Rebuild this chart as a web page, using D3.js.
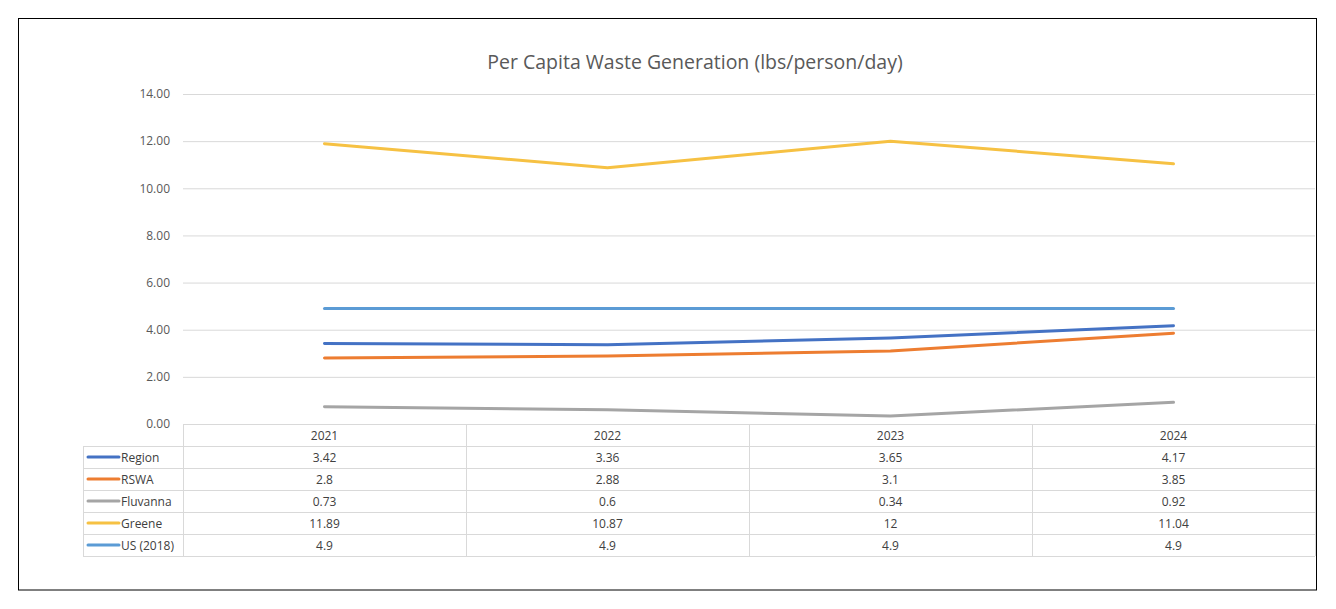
<!DOCTYPE html>
<html>
<head>
<meta charset="utf-8">
<script src="https://cdn.jsdelivr.net/npm/d3@7"></script>
<style>
  html, body { margin: 0; padding: 0; background: #fff; }
  svg { display: block; font-family: "Open Sans", "Liberation Sans", sans-serif; }
</style>
</head>
<body>
<div id="chart"></div>
<script>
const years = ['2021', '2022', '2023', '2024'];
const seriesNames = ['Region', 'RSWA', 'Fluvanna', 'Greene', 'US (2018)'];
const region = [3.42, 3.36, 3.65, 4.17];
const rswa = [2.8, 2.88, 3.1, 3.85];
const fluvanna = [0.73, 0.6, 0.34, 0.92];
const greene = [11.89, 10.87, 12, 11.04];
const us2018 = [4.9, 4.9, 4.9, 4.9];
const yTicks = [0, 2, 4, 6, 8, 10, 12, 14];
const colors = ['#4472C4', '#ED7D31', '#A5A5A5', '#F6C143', '#5B9BD5'];

const seriesValues = [region, rswa, fluvanna, greene, us2018];
const series = seriesNames.map((name, i) => ({ name, values: seriesValues[i], color: colors[i] }));

const W = 1336, H = 609;
const plotLeft = 183, plotRight = 1315, plotTop = 94, plotBottom = 424;
const rowH = 22;
const legendLeft = 83;

const svg = d3.select('#chart').append('svg')
  .attr('width', W)
  .attr('height', H);

// outer frame
svg.append('rect')
  .attr('x', 18.5).attr('y', 18.5)
  .attr('width', 1298).attr('height', 571.5)
  .attr('fill', '#fff')
  .attr('stroke', '#000')
  .attr('stroke-width', 1);

// title
svg.append('text')
  .attr('x', 695).attr('y', 69)
  .attr('text-anchor', 'middle')
  .attr('font-size', 19.5)
  .attr('fill', '#595959')
  .text('Per Capita Waste Generation (lbs/person/day)');

const x = d3.scaleBand()
  .domain(years)
  .range([plotLeft, plotRight]);

const y = d3.scaleLinear()
  .domain([0, 14])
  .range([plotBottom, plotTop]);

// gridlines + y labels
const yAxis = d3.axisLeft(y)
  .tickValues(yTicks)
  .tickSize(-(plotRight - plotLeft))
  .tickPadding(13)
  .tickFormat(d3.format('.2f'));

const gy = svg.append('g')
  .attr('transform', `translate(${plotLeft},0)`)
  .call(yAxis);
gy.select('.domain').remove();
gy.selectAll('.tick line').attr('stroke', '#D9D9D9').attr('stroke-width', 1);
gy.selectAll('.tick text')
  .attr('fill', '#595959')
  .attr('font-size', 12)
  .attr('font-family', '"Open Sans", "Liberation Sans", sans-serif');

// series lines
const line = d3.line()
  .x((d, i) => x(years[i]) + x.bandwidth() / 2)
  .y(d => y(d));

svg.append('g')
  .selectAll('path')
  .data(series)
  .join('path')
  .attr('d', d => line(d.values))
  .attr('fill', 'none')
  .attr('stroke', d => d.color)
  .attr('stroke-width', 3)
  .attr('stroke-linejoin', 'round')
  .attr('stroke-linecap', 'round');

// data table
const table = svg.append('g');
const gridColor = '#D9D9D9';
const tableBottom = plotBottom + rowH * (series.length + 1);

// header row borders (no legend cell in header)
table.append('line')
  .attr('x1', plotLeft).attr('x2', plotRight)
  .attr('y1', plotBottom + 0.5).attr('y2', plotBottom + 0.5)
  .attr('stroke', gridColor);

// horizontal rules under header and each series row
series.forEach((s, i) => {
  const yy = plotBottom + rowH * (i + 1) + 0.5;
  table.append('line')
    .attr('x1', legendLeft).attr('x2', plotRight)
    .attr('y1', yy).attr('y2', yy)
    .attr('stroke', gridColor);
});
table.append('line')
  .attr('x1', legendLeft).attr('x2', plotRight)
  .attr('y1', tableBottom + 0.5).attr('y2', tableBottom + 0.5)
  .attr('stroke', gridColor);

// vertical rules
table.append('line')
  .attr('x1', legendLeft + 0.5).attr('x2', legendLeft + 0.5)
  .attr('y1', plotBottom + rowH).attr('y2', tableBottom)
  .attr('stroke', gridColor);
years.forEach(yr => {
  const xx = x(yr) + 0.5;
  table.append('line')
    .attr('x1', xx).attr('x2', xx)
    .attr('y1', plotBottom).attr('y2', tableBottom)
    .attr('stroke', gridColor);
});
table.append('line')
  .attr('x1', plotRight + 0.5).attr('x2', plotRight + 0.5)
  .attr('y1', plotBottom).attr('y2', tableBottom)
  .attr('stroke', gridColor);

// header labels
table.selectAll('text.year')
  .data(years)
  .join('text')
  .attr('class', 'year')
  .attr('x', d => x(d) + x.bandwidth() / 2)
  .attr('y', plotBottom + rowH / 2 + 4.5)
  .attr('text-anchor', 'middle')
  .attr('font-size', 12)
  .attr('fill', '#404040')
  .text(d => d);

// rows
const rows = table.selectAll('g.row')
  .data(series)
  .join('g')
  .attr('class', 'row')
  .attr('transform', (d, i) => `translate(0,${plotBottom + rowH * (i + 1)})`);

rows.append('line')
  .attr('x1', legendLeft + 5).attr('x2', legendLeft + 36)
  .attr('y1', rowH / 2).attr('y2', rowH / 2)
  .attr('stroke', d => d.color)
  .attr('stroke-width', 3)
  .attr('stroke-linecap', 'round');

rows.append('text')
  .attr('x', legendLeft + 38)
  .attr('y', rowH / 2 + 4.5)
  .attr('font-size', 12)
  .attr('fill', '#404040')
  .text(d => d.name);

rows.selectAll('text.val')
  .data(d => d.values.map((v, i) => ({ v, yr: years[i] })))
  .join('text')
  .attr('class', 'val')
  .attr('x', d => x(d.yr) + x.bandwidth() / 2)
  .attr('y', rowH / 2 + 4.5)
  .attr('text-anchor', 'middle')
  .attr('font-size', 12)
  .attr('fill', '#404040')
  .text(d => String(d.v));
</script>
</body>
</html>
